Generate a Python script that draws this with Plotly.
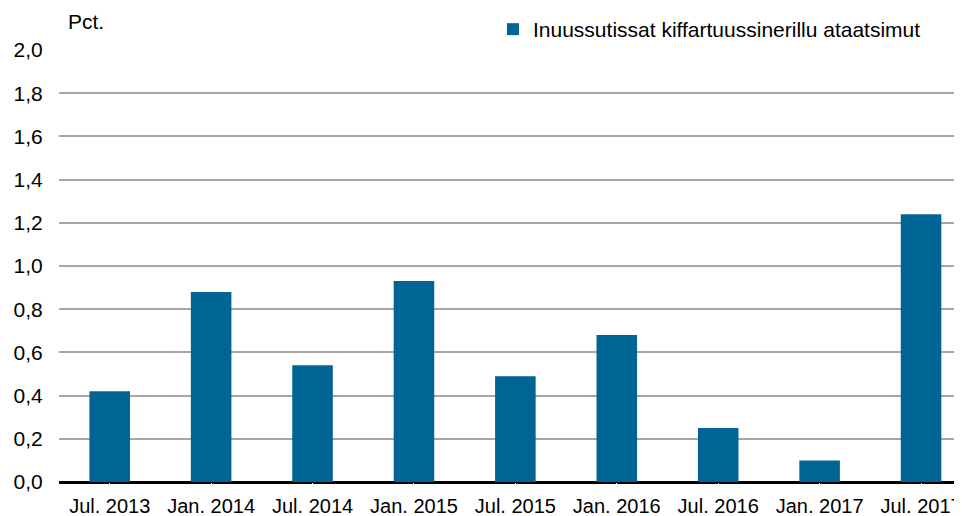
import plotly.graph_objects as go

categories = ['Jul. 2013', 'Jan. 2014', 'Jul. 2014', 'Jan. 2015', 'Jul. 2015',
              'Jan. 2016', 'Jul. 2016', 'Jan. 2017', 'Jul. 2017']
values = [0.42, 0.88, 0.54, 0.93, 0.49, 0.68, 0.25, 0.10, 1.24]
series_name = 'Inuussutissat kiffartuussinerillu ataatsimut'
y_ticks = [0.0, 0.2, 0.4, 0.6, 0.8, 1.0, 1.2, 1.4, 1.6, 1.8, 2.0]

# page has an 8px body margin, so the figure is a bit smaller than the window
W, H = 954, 508
L, T, B = 51, 42, 34
PH = H - T - B
font = dict(family='Liberation Sans, Arial, sans-serif', size=21, color='#000000')
xfont = dict(font, size=20)

fig = go.Figure(data=[go.Bar(x=categories, y=values, name=series_name,
                             marker=dict(color='#006494', line=dict(width=0)),
                             width=0.4)])

fig.update_layout(
    width=W, height=H,
    margin=dict(l=L, r=0, t=T, b=B, autoexpand=False),
    paper_bgcolor='white', plot_bgcolor='white',
    font=font,
    separators=',.',
    bargap=0.6,
    showlegend=True,
    legend=dict(xref='paper', yref='paper', x=(485 - L) / (W - L), y=(H - B - 1) / PH,
                xanchor='left', yanchor='top', font=font, bgcolor='rgba(0,0,0,0)',
                itemwidth=30),
    annotations=[dict(text='Pct.', xref='paper', yref='paper', x=(58 - L) / (W - L),
                      y=(H - B - 14) / PH, xanchor='left', yanchor='middle', showarrow=False,
                      font=font)],
)

fig.update_xaxes(range=[-0.5, 8.404], showgrid=False, showline=False, tickangle=0,
                 ticks='outside', ticklen=6, tickcolor='white', tickfont=xfont)
fig.update_yaxes(range=[0, 2.0], tickvals=y_ticks, tickformat='.1f',
                 showgrid=True, gridcolor='#A6A6A6', gridwidth=2,
                 zeroline=True, zerolinecolor='#000000', zerolinewidth=3,
                 showline=False, ticks='outside', ticklen=11, tickcolor='white',
                 tickfont=font)

fig.write_html('out.html')
